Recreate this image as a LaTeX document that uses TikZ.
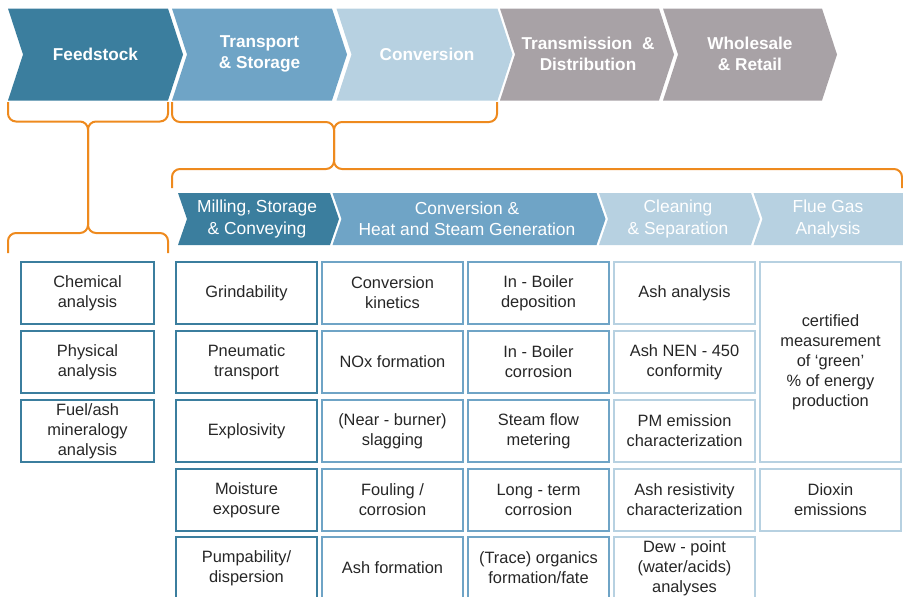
\documentclass[tikz,border=0pt]{standalone}
\usepackage{fontspec}
\setmainfont{Liberation Sans}
\definecolor{chaindark}{HTML}{3B7E9E}
\definecolor{chainmid}{HTML}{6FA4C6}
\definecolor{chainlight}{HTML}{B7D1E1}
\definecolor{chaingrey}{HTML}{A8A2A6}
\definecolor{bracket}{HTML}{EE8A1E}
\definecolor{celltext}{HTML}{262626}
\begin{document}
\begin{tikzpicture}[x=1pt,y=-1pt,
    stage/.style={text=white,align=center,font=\fontsize{17.2}{21}\selectfont\bfseries},
    substage/.style={text=white,align=center,font=\fontsize{17.4}{21}\selectfont},
    brace/.style={bracket,line width=2pt,rounded corners=8pt},
    cell/.style={draw,line width=1.6pt,minimum width=141pt,minimum height=62pt,inner sep=0pt,
        align=center,text=celltext,font=\fontsize{16.4}{20}\selectfont},
    darkcell/.style={cell,draw=chaindark},
    midcell/.style={cell,draw=chainmid},
    lightcell/.style={cell,draw=chainlight},
    feedcell/.style={darkcell,minimum width=133pt}]
    \useasboundingbox (0,0) rectangle (903,597);
    \clip (0,0) rectangle (903,597);

    % value chain
    \fill[chaindark] (8,8.5) -- ++(160,0) -- ++(15,46) -- ++(-15,46) -- ++(-160,0) -- ++(15,-46) -- cycle;
    \fill[chainmid] (172,8.5) -- ++(160,0) -- ++(15,46) -- ++(-15,46) -- ++(-160,0) -- ++(15,-46) -- cycle;
    \fill[chainlight] (336.5,8.5) -- ++(161,0) -- ++(15,46) -- ++(-15,46) -- ++(-161,0) -- ++(15,-46) -- cycle;
    \fill[chaingrey] (500,8.5) -- ++(159,0) -- ++(15,46) -- ++(-15,46) -- ++(-159,0) -- ++(15,-46) -- cycle;
    \fill[chaingrey] (663,8.5) -- ++(159,0) -- ++(15,46) -- ++(-15,46) -- ++(-159,0) -- ++(15,-46) -- cycle;
    \node[stage] (feed) at (95.5,54) {Feedstock};
    \node[stage] (transport) at (259.5,54) {Transport\\\& Storage};
    \node[stage] (conversion) at (427,54) {Conversion};
    \node[stage] (transmission) at (588,54) {Transmission~ \&\\Distribution};
    \node[stage] (wholesale) at (750,54) {Wholesale\\\& Retail};

    % brackets
    \draw[brace] (8,102) -- (8,121.5) -- (88,121.5) -- (88,233) -- (8,233) -- (8,253);
    \draw[brace] (168,102) -- (168,121.5) -- (88,121.5) -- (88,233) -- (168,233) -- (168,253);
    \draw[brace] (172,102) -- (172,122) -- (334,122) -- (334,169) -- (172,169) -- (172,188);
    \draw[brace] (497,102) -- (497,122) -- (334,122) -- (334,169) -- (902,169) -- (902,188);

    % plant steps
    \fill[chaindark] (178,193) -- ++(152,0) -- ++(9,26) -- ++(-9,26) -- ++(-152,0) -- ++(9,-26) -- cycle;
    \fill[chainmid] (332.5,193) -- ++(264,0) -- ++(9,26) -- ++(-9,26) -- ++(-264,0) -- ++(9,-26) -- cycle;
    \fill[chainlight] (599,193) -- ++(152,0) -- ++(9,26) -- ++(-9,26) -- ++(-152,0) -- ++(9,-26) -- cycle;
    \fill[chainlight] (753.5,193) -- (903,193) -- (903,245) -- (753.5,245) -- ++(9,-26) -- cycle;
    \node[substage] (milling) at (257,219) {Milling, Storage\\\& Conveying};
    \node[substage] (heatgen) at (467,219) {Conversion \&\\Heat and Steam Generation};
    \node[substage] (cleaning) at (678,219) {Cleaning\\\& Separation};
    \node[substage] (fluegas) at (828,219) {Flue Gas\\Analysis};

    % feedstock tests
    \node[feedcell] (chem) at (87.5,293) {Chemical\\analysis};
    \node[feedcell] (phys) at (87.5,362) {Physical\\analysis};
    \node[feedcell] (mineral) at (87.5,431) {Fuel/ash\\mineralogy\\analysis};

    % milling, storage and conveying
    \node[darkcell] (grind) at (246.5,293) {Grindability};
    \node[darkcell] (pneu) at (246.5,362) {Pneumatic\\transport};
    \node[darkcell] (explo) at (246.5,431) {Explosivity};
    \node[darkcell] (moist) at (246.5,500) {Moisture\\exposure};
    \node[darkcell] (pump) at (246.5,568) {Pumpability/\\dispersion};

    % conversion and boiler
    \node[midcell] (kinet) at (392.5,293) {Conversion\\kinetics};
    \node[midcell] (nox) at (392.5,362) {NOx formation};
    \node[midcell] (slag) at (392.5,431) {(Near - burner)\\slagging};
    \node[midcell] (foul) at (392.5,500) {Fouling /\\corrosion};
    \node[midcell] (ashform) at (392.5,568) {Ash formation};
    \node[midcell] (depo) at (538.5,293) {In - Boiler\\deposition};
    \node[midcell] (corr) at (538.5,362) {In - Boiler\\corrosion};
    \node[midcell] (steam) at (538.5,431) {Steam flow\\metering};
    \node[midcell] (longterm) at (538.5,500) {Long - term\\corrosion};
    \node[midcell] (organics) at (538.5,568) {(Trace) organics\\formation/fate};

    % cleaning and separation
    \node[lightcell] (ashan) at (684.5,293) {Ash analysis};
    \node[lightcell] (nen) at (684.5,362) {Ash NEN - 450\\conformity};
    \node[lightcell] (pm) at (684.5,431) {PM emission\\characterization};
    \node[lightcell] (resist) at (684.5,500) {Ash resistivity\\characterization};
    \node[lightcell] (dew) at (684.5,568) {Dew - point\\(water/acids)\\analyses};

    % flue gas
    \node[lightcell,minimum height=200pt] (cert) at (830.5,362) {certified\\measurement\\of ‘green’\\\% of energy\\production};
    \node[lightcell] (dioxin) at (830.5,500) {Dioxin\\emissions};
\end{tikzpicture}
\end{document}
